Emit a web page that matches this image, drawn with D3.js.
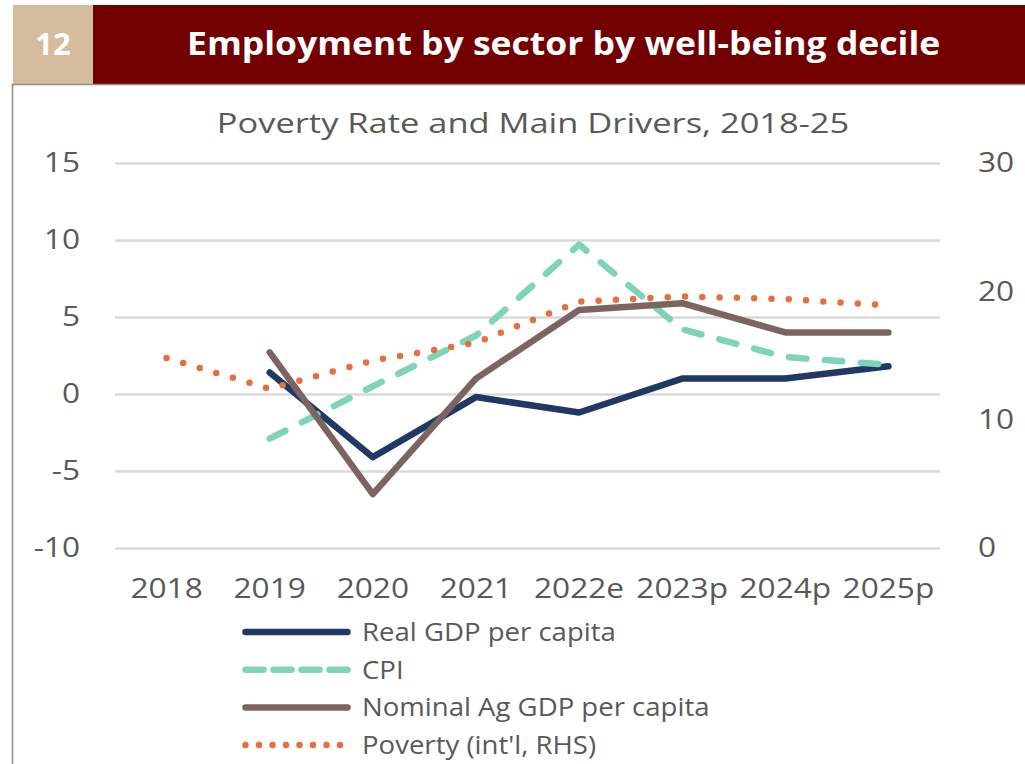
<!DOCTYPE html>
<html>
<head>
<meta charset="utf-8">
<script src="https://cdn.jsdelivr.net/npm/d3@7/dist/d3.min.js"></script>
<style>
  html, body { margin: 0; padding: 0; background: #ffffff; }
  svg { display: block; }
  text { font-family: "Open Sans", sans-serif; }
  .wide { transform-box: fill-box; transform: scaleX(1.13); }
  .wide.s { transform-origin: left center; }
  .wide.m { transform-origin: center center; }
  .wide.e { transform-origin: right center; }
  .wide.head { transform: scaleX(1.11); }
  .wide.sub { transform: scaleX(1.23); }
  .wide.leg { transform: scaleX(1.06); }
</style>
</head>
<body>
<svg id="chart" width="1025" height="764"></svg>
<script>
// ---- data ----
const categories = ["2018", "2019", "2020", "2021", "2022e", "2023p", "2024p", "2025p"];
const realGdpPerCapita = [null, 1.4, -4.1, -0.2, -1.2, 1.0, 1.0, 1.8];
const cpi = [null, -2.9, 0.5, 3.8, 9.7, 4.2, 2.4, 1.9];
const nominalAgGdpPerCapita = [null, 2.7, -6.5, 1.0, 5.45, 5.9, 4.0, 4.0];
const povertyRhs = [14.8, 12.4, 14.6, 16.0, 19.2, 19.6, 19.4, 18.9];
const leftTicks = [-10, -5, 0, 5, 10, 15];
const rightTicks = [0, 10, 20, 30];
const badgeNumber = "12";
const headerTitle = "Employment by sector by well-being decile";
const chartTitle = "Poverty Rate and Main Drivers, 2018-25";

const seriesList = [
  { name: "Real GDP per capita", values: realGdpPerCapita, axis: "left", color: "#203864", kind: "solid" },
  { name: "CPI", values: cpi, axis: "left", color: "#7dd4b9", kind: "dash" },
  { name: "Nominal Ag GDP per capita", values: nominalAgGdpPerCapita, axis: "left", color: "#7b6461", kind: "solid" },
  { name: "Poverty (int'l, RHS)", values: povertyRhs, axis: "right", color: "#e4703f", kind: "dot" }
];

// ---- layout ----
const svg = d3.select("#chart");
const plot = { left: 115, right: 940, top: 163, bottom: 548 };
const textGray = "#595959";
const plainNumber = d => String(d);

// header band
svg.append("rect").attr("x", 13).attr("y", 5).attr("width", 80).attr("height", 79).attr("fill", "#d4bc9c");
svg.append("rect").attr("x", 93).attr("y", 5).attr("width", 932).attr("height", 79).attr("fill", "#720000");
svg.append("text").attr("x", 53).attr("y", 55).attr("text-anchor", "middle")
  .attr("font-size", 31).attr("font-weight", 700).attr("fill", "#ffffff").text(badgeNumber);
svg.append("text").attr("x", 187).attr("y", 55).attr("class", "wide s head")
  .attr("font-size", 32).attr("font-weight", 700).attr("fill", "#ffffff").text(headerTitle);

// panel border
svg.append("path").attr("d", "M12.5,764 V84.5 H1025")
  .attr("fill", "none").attr("stroke", "#8c8c8c").attr("stroke-width", 1.5);

// scales
const x = d3.scaleBand().domain(categories).range([plot.left, plot.right]).padding(0);
const xc = c => x(c) + x.bandwidth() / 2;
const yL = d3.scaleLinear().domain([-10, 15]).range([plot.bottom, plot.top]);
const yR = d3.scaleLinear().domain([0, 30]).range([plot.bottom, plot.top]);

// left axis with gridlines
const gL = svg.append("g").attr("transform", `translate(${plot.left},0)`)
  .call(d3.axisLeft(yL).tickValues(leftTicks).tickSize(-(plot.right - plot.left)).tickPadding(35).tickFormat(plainNumber));
gL.select(".domain").remove();
gL.selectAll(".tick line").attr("stroke", "#d9d9d9").attr("stroke-width", 2.5);
gL.selectAll(".tick text").attr("font-size", 28).attr("fill", textGray)
  .attr("font-family", "Open Sans").attr("class", "wide e");

// right axis
const gR = svg.append("g").attr("transform", `translate(${plot.right},0)`)
  .call(d3.axisRight(yR).tickValues(rightTicks).tickSize(0).tickPadding(38).tickFormat(plainNumber));
gR.select(".domain").remove();
gR.selectAll(".tick text").attr("font-size", 28).attr("fill", textGray)
  .attr("font-family", "Open Sans").attr("class", "wide s");

// category axis
const gX = svg.append("g").attr("transform", `translate(0,${plot.bottom})`)
  .call(d3.axisBottom(x).tickSize(0).tickPadding(0));
gX.select(".domain").remove();
gX.selectAll(".tick text").attr("y", 50).attr("dy", 0).attr("font-size", 28).attr("fill", textGray)
  .attr("font-family", "Open Sans").attr("class", "wide m");

// chart title
svg.append("text").attr("x", 533).attr("y", 133).attr("text-anchor", "middle")
  .attr("font-size", 28).attr("fill", textGray).attr("class", "wide m sub").text(chartTitle);

// series lines
function styleLine(sel, s, legend) {
  sel.attr("fill", "none").attr("stroke", s.color).attr("stroke-linecap", "round").attr("stroke-linejoin", "round");
  if (s.kind === "solid") sel.attr("stroke-width", 6.5);
  if (s.kind === "dash") sel.attr("stroke-width", 6.5).attr("stroke-dasharray", legend ? "18,10" : "17.5,18.5");
  if (s.kind === "dot") sel.attr("stroke-width", 6.5).attr("stroke-dasharray", legend ? "0,13.5" : "0,17.3");
  return sel;
}

seriesList.forEach(s => {
  const yS = s.axis === "left" ? yL : yR;
  const pts = categories.map((c, i) => ({ c, v: s.values[i] })).filter(d => d.v !== null);
  const line = d3.line().x(d => xc(d.c)).y(d => yS(d.v));
  styleLine(svg.append("path").datum(pts).attr("d", line), s, false);
});

// legend
const legendTop = 632, legendStep = 37.7;
seriesList.forEach((s, i) => {
  const ly = legendTop + i * legendStep;
  styleLine(svg.append("path").attr("d", `M245.5,${ly} H347.5`), s, true);
  svg.append("text").attr("x", 362).attr("y", ly).attr("dy", "0.35em")
    .attr("font-size", 26).attr("fill", textGray).attr("class", "wide s leg").text(s.name);
});
</script>
</body>
</html>
